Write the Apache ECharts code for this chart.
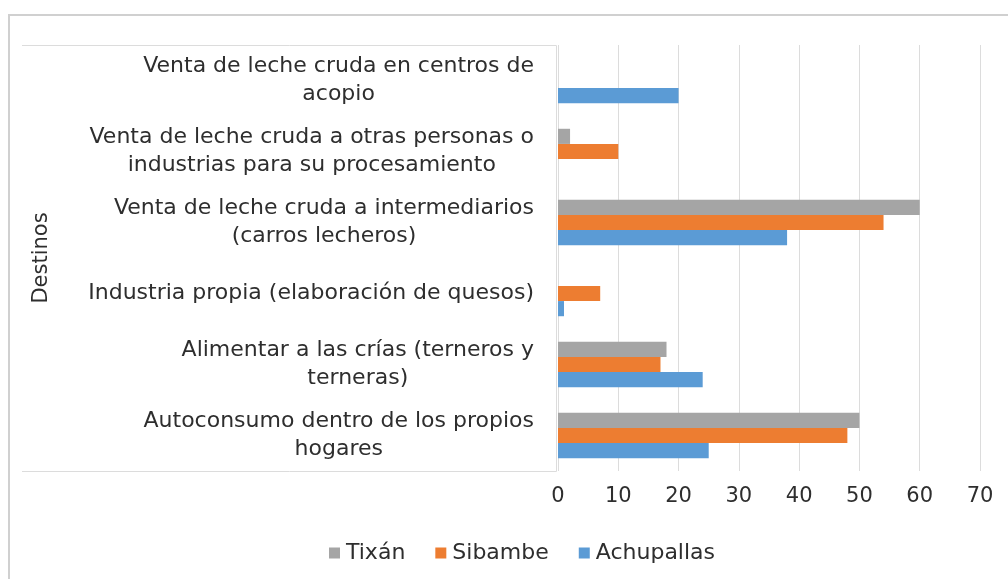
<!DOCTYPE html>
<html>
<head>
<meta charset="utf-8">
<script src="https://cdn.jsdelivr.net/npm/echarts@6/dist/echarts.min.js"></script>
<style>
html,body{margin:0;padding:0;background:#fff;}
#chart{width:1008px;height:579px;}
</style>
</head>
<body>
<div id="chart"></div>
<script>
// destinos, de abajo hacia arriba
var destinos = [
	"Autoconsumo dentro de los propios\nhogares",
	"Alimentar a las crías (terneros y\nterneras)",
	"Industria propia (elaboración de quesos)",
	"Venta de leche cruda a intermediarios\n(carros lecheros)",
	"Venta de leche cruda a otras personas o\nindustrias para su procesamiento",
	"Venta de leche cruda en centros de\nacopio"
];
var tixan = [50, 18, 0, 60, 2, 0];
var sibambe = [48, 17, 7, 54, 10, 0];
var achupallas = [25, 24, 1, 38, 0, 20];
var xTicks = [0, 10, 20, 30, 40, 50, 60, 70];

var chart = echarts.init(document.getElementById('chart'));
var fuente = 'DejaVu Sans';
var gris = '#dcdcdc';
var texto = '#2e2e2e';

function serie(nombre, datos, color) {
	return {
		name: nombre,
		type: 'bar',
		data: datos,
		barGap: '0%',
		barCategoryGap: '36%',
		itemStyle: {color: color},
		silent: true
	};
}

chart.setOption({
	animation: false,
	textStyle: {fontFamily: fuente},
	grid: {left: 558, right: 28, top: 45, bottom: 108},
	legend: {
		bottom: 10,
		left: 324,
		itemWidth: 11,
		itemHeight: 11,
		itemGap: 30,
		icon: 'rect',
		textStyle: {fontSize: 22, color: texto, fontFamily: fuente, padding: [0, 0, 0, 1]},
		data: ['Tixán', 'Sibambe', 'Achupallas']
	},
	xAxis: {
		type: 'value',
		min: xTicks[0],
		max: xTicks[xTicks.length - 1],
		interval: 10,
		axisLine: {show: false},
		axisTick: {show: false},
		splitLine: {lineStyle: {color: gris, width: 1}},
		axisLabel: {fontSize: 21, color: texto, margin: 15}
	},
	yAxis: {
		type: 'category',
		data: destinos,
		name: 'Destinos',
		nameLocation: 'middle',
		nameGap: 506,
		nameTextStyle: {fontSize: 21, color: texto},
		axisLine: {show: false},
		axisTick: {show: false},
		axisLabel: {
			margin: 24,
			color: texto,
			fontSize: 22,
			lineHeight: 28,
			formatter: function(v) {
				return v.split('\n').map(function(l) { return '{c|' + l + '}'; }).join('\n');
			},
			rich: {c: {align: 'center', fontSize: 22, lineHeight: 28, color: texto}}
		}
	},
	graphic: [
		{type: 'polyline', shape: {points: [[9, 579], [9, 15], [1008, 15]]}, style: {stroke: '#d0d0d0', lineWidth: 2, fill: null}, silent: true},
		{type: 'polyline', shape: {points: [[22, 45.5], [556.5, 45.5], [556.5, 471.5], [22, 471.5]]}, style: {stroke: gris, lineWidth: 1, fill: null}, silent: true}
	],
	series: [
		serie('Tixán', tixan, '#a5a5a5'),
		serie('Sibambe', sibambe, '#ed7d31'),
		serie('Achupallas', achupallas, '#5b9bd5')
	]
});
</script>
</body>
</html>
